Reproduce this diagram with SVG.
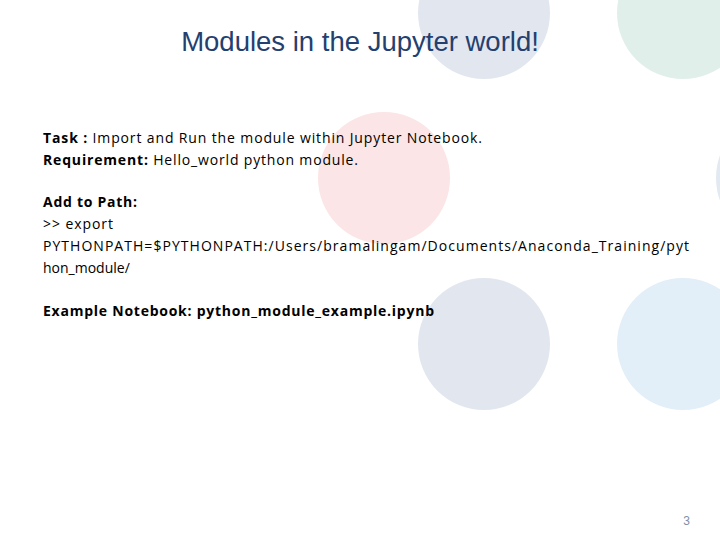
<svg xmlns="http://www.w3.org/2000/svg" width="720" height="540" viewBox="0 0 720 540">
<style>
.t{font-family:"Open Sans",Lato,sans-serif;font-size:14px;fill:#000}
.b{font-weight:bold}
</style>
<rect width="720" height="540" fill="#fff"/>
<g id="circles">
<circle cx="484" cy="13" r="66" fill="#e2e7ef"/>
<circle cx="683" cy="13" r="66" fill="#e1efeb"/>
<circle cx="384" cy="178" r="66" fill="#fbe5e6"/>
<circle cx="782" cy="178" r="66" fill="#e2e9f1"/>
<circle cx="484" cy="344" r="66" fill="#e2e7ef"/>
<circle cx="683" cy="344" r="66" fill="#e2eef8"/>
</g>
<text id="title" x="360" y="51" text-anchor="middle" font-family="Liberation Sans,Arial,sans-serif" font-size="27.5" fill="#24406f">Modules in the Jupyter world!</text>
<g id="body">
<text class="t" x="43" y="143" textLength="439"><tspan class="b">Task : </tspan>Import and Run the module within Jupyter Notebook.</text>
<text class="t" x="43" y="165" textLength="315"><tspan class="b">Requirement: </tspan>Hello_world python module.</text>
<text class="t b" x="43" y="207" textLength="94">Add to Path:</text>
<text class="t" x="43" y="229" textLength="70">&gt;&gt; export</text>
<text class="t" x="43" y="251" textLength="646">PYTHONPATH=$PYTHONPATH:/Users/bramalingam/Documents/Anaconda_Training/pyt</text>
<text class="t" x="43" y="273">hon_module/</text>
<text class="t b" x="43" y="316" textLength="391">Example Notebook: python_module_example.ipynb</text>
</g>
<text id="page" x="690" y="525" text-anchor="end" font-family="Liberation Sans,Arial,sans-serif" font-size="12" fill="#7f8fa9">3</text>
</svg>
